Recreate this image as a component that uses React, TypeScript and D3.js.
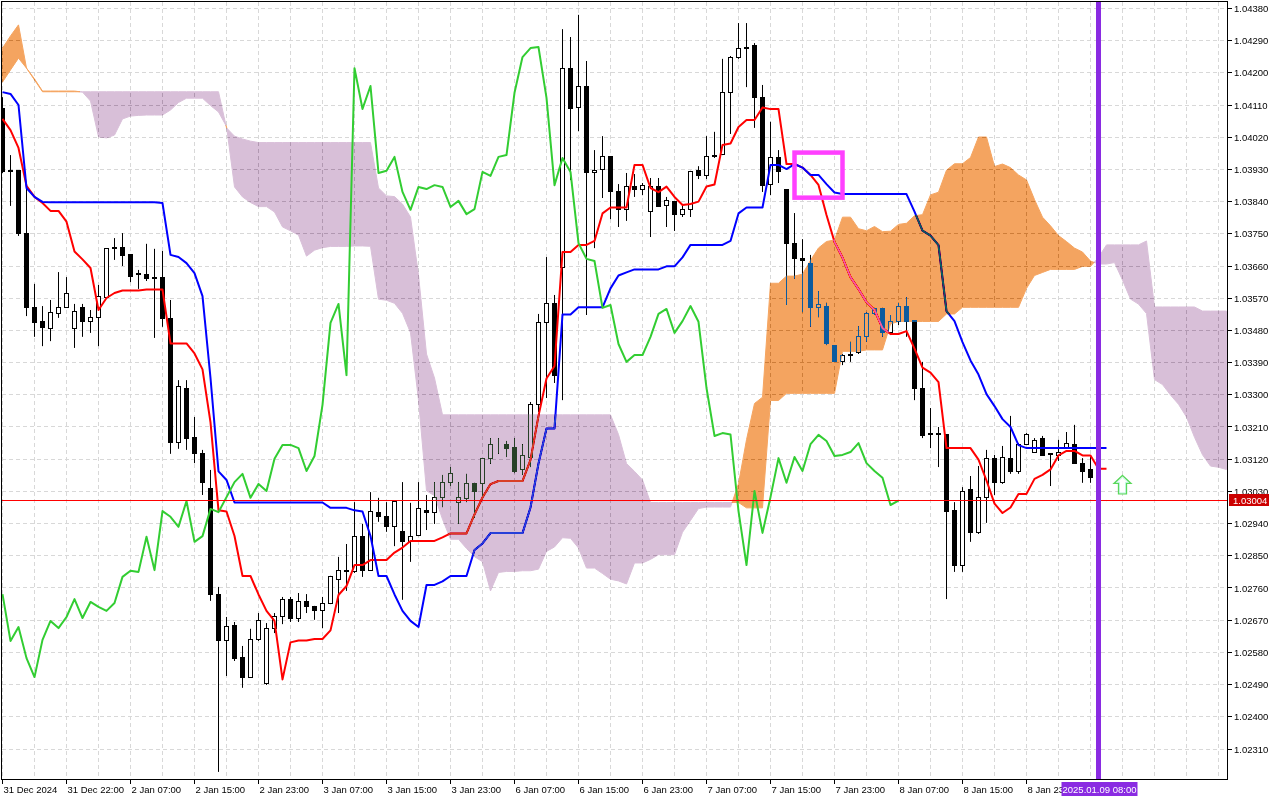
import React from 'react';
import * as d3 from 'd3';

// ---------- data (EURUSD H1, Ichimoku) ----------
const timeLabels = [
  '31 Dec 2024', '31 Dec 22:00', '2 Jan 07:00', '2 Jan 15:00', '2 Jan 23:00', '3 Jan 07:00',
  '3 Jan 15:00', '3 Jan 23:00', '6 Jan 07:00', '6 Jan 15:00', '6 Jan 23:00', '7 Jan 07:00',
  '7 Jan 15:00', '7 Jan 23:00', '8 Jan 07:00', '8 Jan 15:00', '8 Jan 23:00',
];
const labelEvery = 8;

const priceTicks = [
  1.0438, 1.0429, 1.042, 1.0411, 1.0402, 1.0393, 1.0384, 1.0375, 1.0366, 1.0357, 1.0348, 1.0339,
  1.033, 1.0321, 1.0312, 1.0303, 1.0294, 1.0285, 1.0276, 1.0267, 1.0258, 1.0249, 1.024, 1.0231,
];

const opens = [
  1.04099, 1.03926, 1.03926, 1.03752, 1.03545, 1.03504, 1.03484, 1.03526, 1.03545, 1.03484,
  1.03543, 1.03506, 1.03515, 1.03573, 1.03708, 1.03713, 1.03691, 1.03638, 1.03635, 1.03627,
  1.03627, 1.03512, 1.03168, 1.03319, 1.03182, 1.03135, 1.03037, 1.02743, 1.02612, 1.02654,
  1.02567, 1.02511, 1.02615, 1.02492, 1.02648, 1.02679, 1.02729, 1.02676, 1.02721, 1.02707,
  1.02696, 1.02718, 1.02785, 1.02808, 1.02805, 1.02903, 1.0281, 1.0297, 1.02959, 1.02931,
  1.02917, 1.02891, 1.02908, 1.02978, 1.02972, 1.03012, 1.03056, 1.03, 1.03009, 1.03051,
  1.03051, 1.03121, 1.03162, 1.03162, 1.03154, 1.0309, 1.03126, 1.03272, 1.03501, 1.03554,
  1.03657, 1.04213, 1.04104, 1.04163, 1.0392, 1.03931, 1.03965, 1.03867, 1.03817, 1.03881,
  1.03875, 1.03811, 1.03881, 1.03828, 1.03839, 1.03805, 1.03819, 1.03926, 1.03912, 1.03965,
  1.03973, 1.04144, 1.04244, 1.04269, 1.04275, 1.0413, 1.03889, 1.03962, 1.03875, 1.03724,
  1.0368, 1.03666, 1.03543, 1.03548, 1.03439, 1.03392, 1.03414, 1.03417, 1.03462, 1.03526,
  1.0354, 1.03473, 1.03506, 1.03548, 1.03509, 1.03319, 1.03188, 1.03191, 1.03188, 1.02978,
  1.02824, 1.03034, 1.02914, 1.03014, 1.03123, 1.03054, 1.03123, 1.03087, 1.03162, 1.0314,
  1.03177, 1.03135, 1.03129, 1.03154, 1.03162, 1.03109, 1.0309, 1.03068, 1.03005,
];
const highs = [
  1.04132, 1.0397, 1.03926, 1.03878, 1.0361, 1.03548, 1.03565, 1.03643, 1.03629, 1.03554,
  1.03554, 1.03537, 1.03607, 1.0371, 1.03738, 1.03752, 1.03691, 1.03649, 1.03722, 1.03708,
  1.03702, 1.03565, 1.03341, 1.03341, 1.03238, 1.03146, 1.0309, 1.02763, 1.02679, 1.02665,
  1.02598, 1.02646, 1.0269, 1.02662, 1.0269, 1.02735, 1.02735, 1.02746, 1.02743, 1.0271,
  1.02735, 1.02794, 1.02847, 1.02883, 1.03, 1.02939, 1.03028, 1.03012, 1.03, 1.03003,
  1.03056, 1.02998, 1.03056, 1.0302, 1.03056, 1.03076, 1.03098, 1.03056, 1.03079, 1.03054,
  1.03121, 1.03179, 1.03179, 1.03171, 1.03179, 1.03162, 1.0328, 1.03526, 1.03685, 1.03579,
  1.04322, 1.043, 1.04362, 1.04233, 1.03984, 1.04023, 1.03965, 1.03889, 1.0392, 1.03917,
  1.03892, 1.03906, 1.03906, 1.03853, 1.03839, 1.0383, 1.03926, 1.03939, 1.04023, 1.04035,
  1.04239, 1.04247, 1.04339, 1.04339, 1.04283, 1.04166, 1.04063, 1.03984, 1.03875, 1.03808,
  1.03735, 1.03691, 1.0359, 1.03557, 1.03439, 1.03414, 1.03448, 1.03492, 1.03531, 1.03543,
  1.03543, 1.03523, 1.03557, 1.03573, 1.03509, 1.03392, 1.03263, 1.0321, 1.03188, 1.03,
  1.03042, 1.03073, 1.03101, 1.03146, 1.03132, 1.03157, 1.03241, 1.03165, 1.03193, 1.03179,
  1.03185, 1.03135, 1.03174, 1.03196, 1.03216, 1.03123, 1.03126, 1.03073, 1.03006,
];
const lows = [
  1.0392, 1.03828, 1.03744, 1.0352, 1.03462, 1.03436, 1.0345, 1.03515, 1.03543, 1.03431,
  1.03462, 1.03473, 1.03436, 1.03571, 1.03677, 1.0366, 1.03615, 1.03596, 1.03618, 1.03459,
  1.0349, 1.03135, 1.03149, 1.03146, 1.03109, 1.0302, 1.02724, 1.02246, 1.02514, 1.02556,
  1.02481, 1.02509, 1.02612, 1.02489, 1.02634, 1.02659, 1.02665, 1.02665, 1.0269, 1.02671,
  1.02648, 1.02715, 1.0269, 1.02752, 1.02802, 1.02791, 1.02808, 1.02945, 1.02917, 1.02877,
  1.02727, 1.02833, 1.02905, 1.02922, 1.02939, 1.02986, 1.03045, 1.02939, 1.03, 1.02956,
  1.03006, 1.03107, 1.03135, 1.03126, 1.03081, 1.03076, 1.03098, 1.03252, 1.03291, 1.03333,
  1.03285, 1.039, 1.04037, 1.03523, 1.0371, 1.0385, 1.03791, 1.03769, 1.03786, 1.03853,
  1.03858, 1.03741, 1.03825, 1.03769, 1.03758, 1.03797, 1.03797, 1.03903, 1.03903, 1.03962,
  1.0397, 1.04029, 1.04239, 1.0416, 1.04046, 1.03867, 1.03858, 1.03892, 1.03551, 1.03624,
  1.03531, 1.0349, 1.03517, 1.03439, 1.03392, 1.03383, 1.03392, 1.03414, 1.03448, 1.03523,
  1.03462, 1.03467, 1.03495, 1.03462, 1.03285, 1.03179, 1.03151, 1.03098, 1.02729, 1.02805,
  1.02805, 1.02889, 1.02911, 1.02942, 1.0302, 1.03051, 1.03079, 1.03079, 1.03162, 1.0314,
  1.03129, 1.03045, 1.03115, 1.03151, 1.03107, 1.03054, 1.03054, 1.0297, 1.03003,
];
const closes = [
  1.03923, 1.03923, 1.03752, 1.03543, 1.03501, 1.03487, 1.03529, 1.03545, 1.03582, 1.03534,
  1.03504, 1.03515, 1.03576, 1.03708, 1.03713, 1.03688, 1.03632, 1.03635, 1.03624, 1.03624,
  1.03512, 1.03168, 1.03322, 1.03179, 1.03135, 1.03056, 1.02743, 1.02612, 1.02651, 1.02564,
  1.02511, 1.02615, 1.02668, 1.02648, 1.02679, 1.02729, 1.02676, 1.02721, 1.02707, 1.02696,
  1.02718, 1.02791, 1.02808, 1.02805, 1.02903, 1.0281, 1.02975, 1.02959, 1.02931, 1.03003,
  1.02889, 1.02905, 1.02981, 1.02972, 1.03014, 1.03056, 1.03079, 1.03012, 1.03051, 1.03031,
  1.03121, 1.0316, 1.0316, 1.03151, 1.03087, 1.03129, 1.03272, 1.03501, 1.03554, 1.03355,
  1.04213, 1.04099, 1.04163, 1.0392, 1.03926, 1.03965, 1.03867, 1.03817, 1.03881, 1.03875,
  1.03886, 1.03881, 1.03825, 1.03842, 1.03805, 1.03819, 1.03923, 1.03912, 1.03965, 1.0397,
  1.04144, 1.04244, 1.04269, 1.04272, 1.0413, 1.03886, 1.03962, 1.03923, 1.03724, 1.0368,
  1.03674, 1.03543, 1.03551, 1.03442, 1.03392, 1.03411, 1.03411, 1.03462, 1.03526, 1.0354,
  1.03473, 1.03506, 1.03548, 1.03504, 1.03319, 1.03185, 1.03193, 1.03189, 1.02975, 1.02824,
  1.03031, 1.02914, 1.03014, 1.03123, 1.03054, 1.03126, 1.03087, 1.03162, 1.03188, 1.03171,
  1.03129, 1.03132, 1.0314, 1.03165, 1.03109, 1.03087, 1.03068, 1.02992, 1.03004,
];

// indicator values before enough history is on the chart
const tenkanEarly = [1.04071, 1.0404, 1.0399, 1.03884, 1.03853, 1.03836, 1.03814, 1.03814];
const kijunEarly = [
  1.04146, 1.04141, 1.0411, 1.03878, 1.03853, 1.03839, 1.03838, 1.03838, 1.03838, 1.03838,
  1.03838, 1.03838, 1.03838, 1.03838, 1.03838, 1.03838, 1.03838, 1.03838, 1.03838, 1.03838,
  1.03836, 1.03691, 1.03685, 1.03668, 1.0364,
];
const spanAEarly = [
  1.04269, 1.04303, 1.04334, 1.04213, 1.04183, 1.04149, 1.04149, 1.04149, 1.04149, 1.04149,
  1.04146, 1.04121, 1.04021, 1.04018, 1.04026, 1.04071, 1.04079, 1.04081, 1.04082, 1.04082,
  1.04082, 1.04096, 1.04117, 1.04129, 1.04129, 1.04129,
];
const spanBEarly = [
  1.04174, 1.04208, 1.04241, 1.04213, 1.0418, 1.04147, 1.04147, 1.04147, 1.04147, 1.04147,
  1.04147, 1.04147, 1.04147, 1.04147, 1.04147, 1.04147, 1.04147, 1.04147, 1.04147, 1.04147,
  1.04147, 1.04147, 1.04147, 1.04147, 1.04147, 1.04147, 1.04147, 1.04147, 1.04046, 1.04023,
  1.04015, 1.04009, 1.04005, 1.04005, 1.04005, 1.04005, 1.04005, 1.04005, 1.04005, 1.04005,
  1.04005, 1.04005, 1.04005, 1.04005, 1.04005, 1.04005, 1.04005, 1.03878, 1.03856, 1.03854,
  1.03833, 1.03797, 1.03635, 1.03414, 1.03347, 1.03244, 1.03244, 1.03244, 1.03244, 1.03244,
  1.03244, 1.03244, 1.03244, 1.03244, 1.03244, 1.03244, 1.03244, 1.03244, 1.03244, 1.03244,
  1.03244, 1.03244, 1.03244, 1.03244, 1.03244, 1.03244, 1.03244,
];

const lastPrice = 1.03004;
const markerBar = 137;
const markerLabel = '2025.01.09 08:00';
const boxBars = [99, 105];
const boxPrices = [1.03977, 1.03851];
const arrowBar = 140;
const arrowPrice = 1.03023;

// ---------- layout ----------
const W = 1280;
const H = 800;
const PL = 2;
const PR = 1227;
const PT = 2;
const PB = 779;
const visibleBars = 154;
const FONT = "'Liberation Sans', Arial, Helvetica, sans-serif";

const sy = (v: number) => Math.floor(v) + 0.5;

export default function App() {
  const x = d3.scaleLinear().domain([0, visibleBars - 1]).range([2.5, 2.5 + 8 * (visibleBars - 1)]);
  const y = d3.scaleLinear().domain([1.0231, 1.0438]).range([749, 8.4]);

  const N = closes.length;
  const hh = (a: number, b: number) => d3.max(highs.slice(a, b + 1)) as number;
  const ll = (a: number, b: number) => d3.min(lows.slice(a, b + 1)) as number;
  const tenkan = d3.range(N).map((k) => (k < tenkanEarly.length ? tenkanEarly[k] : (hh(k - 8, k) + ll(k - 8, k)) / 2));
  const kijun = d3.range(N).map((k) => (k < kijunEarly.length ? kijunEarly[k] : (hh(k - 25, k) + ll(k - 25, k)) / 2));
  const M = Math.min(N + 26, visibleBars);
  const spanA = d3.range(M).map((j) => (j < spanAEarly.length ? spanAEarly[j] : (tenkan[j - 26] + kijun[j - 26]) / 2));
  const spanB = d3.range(M).map((j) => (j < spanBEarly.length ? spanBEarly[j] : (hh(j - 77, j - 26) + ll(j - 77, j - 26)) / 2));
  const chikou = closes.slice(26);

  // cloud runs
  type Run = { bull: boolean; top: [number, number][]; bot: [number, number][] };
  const runs: Run[] = [];
  let bull = spanA[0] >= spanB[0];
  let top: [number, number][] = [[0, spanA[0]]];
  let bot: [number, number][] = [[0, spanB[0]]];
  for (let j = 0; j < M - 1; j++) {
    const d0 = spanA[j] - spanB[j];
    const d1 = spanA[j + 1] - spanB[j + 1];
    const b1 = d1 > 0 ? true : d1 < 0 ? false : bull;
    if (b1 !== bull) {
      const t = d0 / (d0 - d1);
      const xc = j + t;
      const pc = spanA[j] + (spanA[j + 1] - spanA[j]) * t;
      top.push([xc, pc]);
      bot.push([xc, pc]);
      runs.push({ bull, top, bot });
      bull = b1;
      top = [[xc, pc]];
      bot = [[xc, pc]];
    }
    top.push([j + 1, spanA[j + 1]]);
    bot.push([j + 1, spanB[j + 1]]);
  }
  runs.push({ bull, top, bot });
  const runPath = (r: Run) => {
    const pts = [...r.top, ...r.bot.slice().reverse()];
    return 'M' + pts.map(([a, b]) => `${x(a).toFixed(2)},${y(b).toFixed(2)}`).join('L') + 'Z';
  };
  const bullPath = runs.filter((r) => r.bull).map(runPath).join('');
  const bearPath = runs.filter((r) => !r.bull).map(runPath).join('');

  const line = d3
    .line<number>()
    .x((_, i) => x(i))
    .y((d) => y(d));

  const gridX = d3.range(0, visibleBars, 4);
  const py = sy(y(lastPrice));
  const mx = x(markerBar);
  const ax = x(arrowBar);
  const ay = y(arrowPrice);

  return (
    <svg
      width={W}
      height={H}
      viewBox={`0 0 ${W} ${H}`}
      style={{ position: 'absolute', left: 0, top: 0, display: 'block' }}
      fontFamily={FONT}
    >
      <defs>
        <clipPath id="plotClip">
          <rect x={PL} y={PT} width={PR - PL} height={PB - PT} />
        </clipPath>
      </defs>
      <rect x={0} y={0} width={W} height={H} fill="#ffffff" />

      <g clipPath="url(#plotClip)">
        {/* grid */}
        {priceTicks.map((p) => (
          <line key={'gh' + p} x1={PL} x2={PR} y1={sy(y(p))} y2={sy(y(p))} stroke="#d8d8d8" strokeDasharray="4,3" />
        ))}
        {gridX.map((k) => (
          <line key={'gv' + k} x1={x(k)} x2={x(k)} y1={PT} y2={PB} stroke="#d8d8d8" strokeDasharray="4,3" />
        ))}

        {/* candles */}
        {closes.map((c, k) => {
          const o = opens[k];
          const cx = x(k);
          const yt = sy(y(Math.max(o, c)));
          const yb = sy(y(Math.min(o, c)));
          return (
            <g key={'c' + k}>
              <line x1={cx} x2={cx} y1={y(highs[k])} y2={y(lows[k])} stroke="#000" strokeWidth={1} />
              <rect
                x={cx - 2}
                y={yt}
                width={4}
                height={Math.max(0, yb - yt)}
                fill={c < o ? '#000' : '#fff'}
                stroke="#000"
                strokeWidth={1}
                shapeRendering="crispEdges"
              />
            </g>
          );
        })}

        {/* tenkan & kijun */}
        <path d={line(tenkan) || ''} fill="none" stroke="#ff0000" strokeWidth={2} strokeLinejoin="round" />
        <path d={line(kijun) || ''} fill="none" stroke="#0000ff" strokeWidth={2} strokeLinejoin="round" />
      </g>

      {/* cloud (xor-like painting) */}
      <path d={bearPath} fill="#274027" stroke="#274027" strokeWidth={1} style={{ mixBlendMode: 'difference' }} />
      <path d={bullPath} fill="#0b5b9f" stroke="#0b5b9f" strokeWidth={1} style={{ mixBlendMode: 'difference' }} />

      <g clipPath="url(#plotClip)">
        {/* chikou */}
        <path d={line(chikou) || ''} fill="none" stroke="#32cd32" strokeWidth={2} strokeLinejoin="round" />
        {/* bid line */}
        <line x1={PL} x2={PR} y1={py} y2={py} stroke="#ff0000" strokeWidth={1} />
        {/* vertical marker */}
        <line x1={mx} x2={mx} y1={PT} y2={PB} stroke="#8a2be2" strokeWidth={5} />
        {/* rectangle */}
        <rect
          x={x(boxBars[0])}
          y={y(boxPrices[0])}
          width={x(boxBars[1]) - x(boxBars[0])}
          height={y(boxPrices[1]) - y(boxPrices[0])}
          fill="none"
          stroke="#ff40ff"
          strokeWidth={4.5}
        />
        {/* up arrow */}
        <path
          d={`M${ax},${ay - 18.5} L${ax + 8.5},${ay - 10.5} L${ax + 4},${ay - 10.5} L${ax + 4},${ay} L${ax - 4},${ay} L${ax - 4},${ay - 10.5} L${ax - 8.5},${ay - 10.5} Z`}
          fill="#ffffff"
          stroke="#5ad85a"
          strokeWidth={1.3}
          strokeLinejoin="miter"
        />
        <path
          d={`M${ax},${ay - 16.5} L${ax + 6},${ay - 11.5} L${ax + 3},${ay - 11.5} L${ax + 3},${ay - 1} L${ax - 3},${ay - 1} L${ax - 3},${ay - 11.5} L${ax - 6},${ay - 11.5} Z`}
          fill="none"
          stroke="#b6f3dc"
          strokeWidth={0.8}
        />
      </g>

      {/* frame */}
      <line x1={1} x2={PR + 1} y1={1.5} y2={1.5} stroke="#000" />
      <line x1={1.5} x2={1.5} y1={1} y2={PB + 1} stroke="#000" />
      <line x1={PR + 0.5} x2={PR + 0.5} y1={1} y2={PB + 1} stroke="#000" />
      <line x1={1} x2={PR + 1} y1={PB + 0.5} y2={PB + 0.5} stroke="#000" />

      {/* price axis */}
      {priceTicks.map((p) => (
        <g key={'pt' + p}>
          <line x1={PR + 1} x2={PR + 5} y1={sy(y(p))} y2={sy(y(p))} stroke="#000" />
          <text x={PR + 7} y={y(p) + 3.5} fontSize={9.5} fill="#000">
            {p.toFixed(5)}
          </text>
        </g>
      ))}
      <rect x={PR + 2} y={py - 6.5} width={40} height={12} fill="#cc0000" />
      <text x={PR + 6} y={py + 3.5} fontSize={9.5} fill="#ffffff">
        {lastPrice.toFixed(5)}
      </text>

      {/* time axis */}
      {timeLabels.map((t, i) => {
        const k = i * labelEvery;
        return (
          <g key={'tl' + i}>
            <line x1={x(k)} x2={x(k)} y1={PB + 1} y2={PB + 5} stroke="#000" />
            <text x={x(k) + 1} y={793} fontSize={9.5} fill="#000">
              {t}
            </text>
          </g>
        );
      })}
      <rect x={mx - 37} y={782} width={76} height={14} fill="#8a2be2" />
      <text x={mx + 1} y={793} fontSize={9.5} fill="#ffffff" textAnchor="middle">
        {markerLabel}
      </text>
    </svg>
  );
}
